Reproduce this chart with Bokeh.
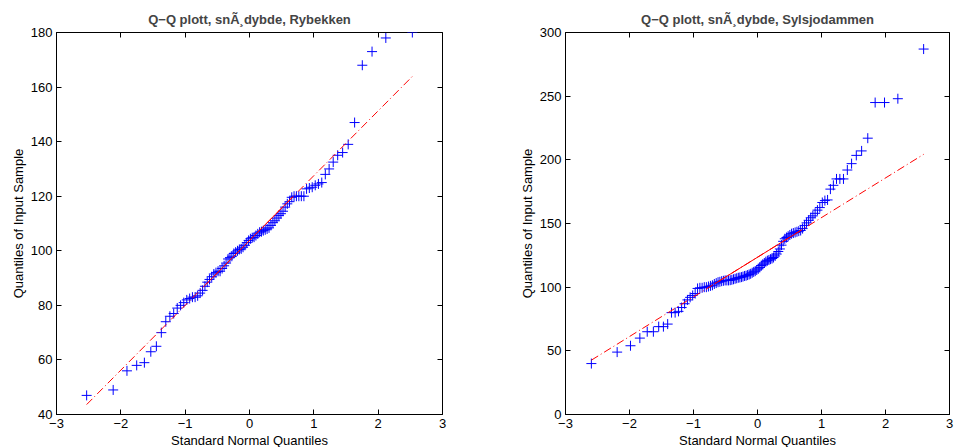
from math import floor
from statistics import NormalDist
from bokeh.plotting import figure
from bokeh.layouts import row
from bokeh.models import FixedTicker, LinearAxis, Range1d, CustomJSTickFormatter
from bokeh.embed import file_html
from bokeh.resources import INLINE

# ---- data (sorted sample values) ----
title_left = "Q\u2212Q plott, sn\u00c3\u00b8dybde, Rybekken"
title_right = "Q\u2212Q plott, sn\u00c3\u00b8dybde, Sylsjodammen"
x_label = "Standard Normal Quantiles"
y_label = "Quantiles of Input Sample"

rybekken = [47, 49, 56, 58, 59, 63, 65, 70, 74, 76,
            77, 79, 80, 81, 82, 82.5, 83, 83, 83.5, 84.5,
            85.5, 87, 88.5, 89.5, 90.5, 91.5, 92, 92.5, 92.5, 93.5,
            94.5, 95.5, 97, 97.5, 98, 99, 99.5, 100, 100.5, 100.7,
            101.3, 102, 103, 103.8, 104.4, 104.8, 105, 105.6, 106.2, 106.8,
            107, 107.4, 107.7, 108, 108.4, 109.3, 110.3, 111, 112, 112.9,
            113.6, 114.5, 116, 117.2, 118, 119.6, 120, 120, 120, 120,
            120, 122.7, 123, 123.3, 124, 124.5, 125, 128, 130, 132.5,
            135, 136, 139, 147, 168, 173, 178, 180]

sylsjodammen = [40, 49, 54, 60, 65, 65, 69, 69, 71, 80,
                80, 81, 84, 87, 90, 92, 93.5, 95, 99, 99.5,
                99.5, 100, 100, 100.5, 101, 101.5, 102.5, 103.2, 103.9, 104.2,
                104.7, 105, 105.3, 105.3, 105.3, 105.5, 105.8, 106.2, 106.6, 107,
                107.4, 107.6, 107.9, 108.3, 108.8, 109, 109.5, 110, 110.5, 111.3,
                112, 112.6, 113.5, 114.4, 115.5, 117, 118, 119, 120, 120.8,
                121.3, 122, 122.5, 123.3, 124.5, 126, 128, 130, 133, 136,
                138, 139, 140, 141, 142, 142.5, 143, 143.5, 144, 144.5,
                146, 148.5, 150.5, 152.5, 154.5, 156, 158, 160.5, 162.5, 166.5,
                168, 168.5, 177, 180, 185, 185, 185, 192, 197, 203.5,
                207, 217, 245, 245, 248, 287]

x_ticks = [-3, -2, -1, 0, 1, 2, 3]
y_ticks_left = [40, 60, 80, 100, 120, 140, 160, 180]
y_ticks_right = [0, 50, 100, 150, 200, 250, 300]

FONT = "Liberation Sans"


def prctile(v, p):
    s = sorted(v)
    n = len(s)
    pos = p / 100.0 * n + 0.5
    if pos <= 1:
        return s[0]
    if pos >= n:
        return s[-1]
    k = int(floor(pos))
    f = pos - k
    return s[k - 1] + f * (s[k] - s[k - 1])


def make(title, values, yr, yticks, frame_w, bl, br):
    ys = sorted(values)
    n = len(ys)
    nd = NormalDist()
    xs = [nd.inv_cdf((i - 0.5) / n) for i in range(1, n + 1)]

    q1x, q3x = prctile(xs, 25), prctile(xs, 75)
    q1y, q3y = prctile(ys, 25), prctile(ys, 75)
    slope = (q3y - q1y) / (q3x - q1x)
    cx, cy = (q1x + q3x) / 2, (q1y + q3y) / 2
    minx, maxx = min(xs), max(xs)
    miny = cy - slope * (cx - minx)
    maxy = cy + slope * (maxx - cx)

    p = figure(frame_width=frame_w, frame_height=382,
               x_range=Range1d(-3, 3), y_range=Range1d(*yr),
               output_backend="svg", toolbar_location=None,
               min_border_left=bl, min_border_right=br,
               min_border_top=32, min_border_bottom=33,
               background_fill_color="white", border_fill_color="white")
    p.grid.visible = False
    p.outline_line_color = "black"
    p.outline_line_width = 1

    p.title.text = title
    p.title.align = "center"
    p.title.text_font = FONT
    p.title.text_font_size = "13px"
    p.title.text_font_style = "bold"
    p.title.standoff = 12

    for ax, ticks, lab in ((p.xaxis[0], x_ticks, x_label), (p.yaxis[0], yticks, y_label)):
        ax.ticker = FixedTicker(ticks=ticks)
        ax.minor_tick_line_color = None
        ax.major_tick_in = 5
        ax.major_tick_out = 0
        ax.axis_line_color = "black"
        ax.major_tick_line_color = "black"
        ax.major_label_text_font = FONT
        ax.major_label_text_font_size = "13px"
        ax.major_label_text_color = "black"
        ax.major_label_standoff = 4
        ax.axis_label = lab
        ax.axis_label_text_font = FONT
        ax.axis_label_text_font_size = "13px"
        ax.axis_label_text_font_style = "normal"
        ax.axis_label_text_color = "black"
        ax.axis_label_standoff = 2

    # mirrored ticks on top and right (box on), without labels
    for loc, ticks in (("above", x_ticks), ("right", yticks)):
        a = LinearAxis(ticker=FixedTicker(ticks=ticks),
                       formatter=CustomJSTickFormatter(code="return '';"))
        a.minor_tick_line_color = None
        a.major_tick_in = 5
        a.major_tick_out = 0
        a.major_label_text_font_size = "1px"
        a.major_label_standoff = 0
        a.axis_line_color = None
        a.major_tick_line_color = "black"
        p.add_layout(a, loc)

    p.scatter(xs, ys, marker="cross", size=10, line_color="#0000ff",
              line_width=1)
    p.line([minx, maxx], [miny, maxy], line_color="#ff0000", line_width=1,
           line_dash="8 3 1 3")
    p.line([q1x, q3x], [q1y, q3y], line_color="#ff0000", line_width=1)
    return p


p1 = make(title_left, rybekken, (40, 180), y_ticks_left, 386, 56, 20)
p2 = make(title_right, sylsjodammen, (0, 300), y_ticks_right, 384, 103, 5)

layout = row(p1, p2)
open("out.html", "w").write(file_html(layout, INLINE))
